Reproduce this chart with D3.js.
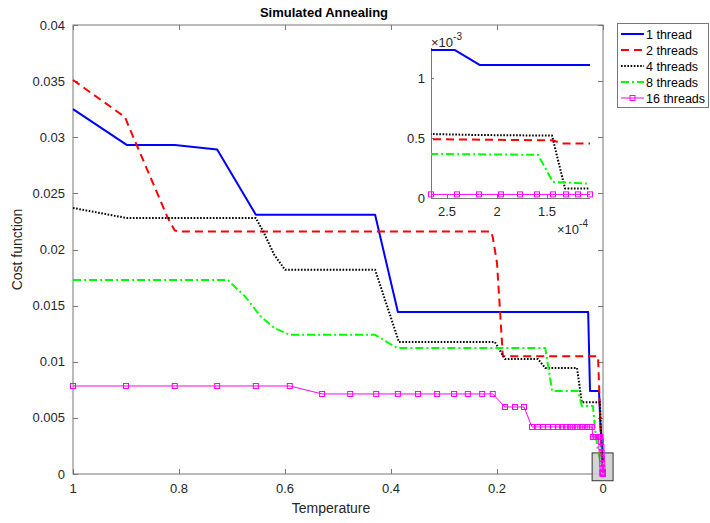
<!DOCTYPE html>
<html><head><meta charset="utf-8">
<script src="https://cdn.jsdelivr.net/npm/d3@7/dist/d3.min.js"></script>
<style>body{margin:0;background:#fff}svg{font-family:"Liberation Sans",Arial,sans-serif}</style>
</head><body><svg id="c" width="710" height="523"></svg>
<script>
// ---- data ----
const seriesNames = ["1 thread","2 threads","4 threads","8 threads","16 threads"];
const t1 = [1,0.898,0.808,0.728,0.655,0.43,0.387,0.028,0.0245,0.0075,0.005,0.003,0.0015,0.0005,2.66e-4,2.42e-4,2.17e-4,1.07e-4];
const c1 = [0.0325,0.0293,0.0293,0.0289,0.0231,0.0231,0.01443,0.01443,0.0074,0.0074,0.0045,0.0030,0.0018,0.0013,0.001233,0.001233,0.001108,0.001108];
const t2 = [1,0.902,0.896,0.821,0.808,0.80,0.211,0.208,0.2,0.194,0.189,0.0094,0.006,0.003,0.001,2.66e-4,1.44e-4,1.35e-4,1.07e-4];
const c2 = [0.0351,0.0318,0.0311,0.0228,0.0217,0.0216,0.0216,0.0211,0.0188,0.0143,0.0105,0.0105,0.0060,0.0020,0.0008,0.00049,0.00048,0.000455,0.000455];
const t4 = [1,0.898,0.655,0.64,0.62,0.60,0.43,0.385,0.204,0.185,0.123,0.109,0.049,0.04,0.0057,0.004,0.002,0.001,2.66e-4,2.2e-4,1.45e-4,1.32e-4,1.07e-4];
const c4 = [0.0237,0.0228,0.0228,0.0215,0.0195,0.0182,0.0182,0.01176,0.01176,0.01025,0.01025,0.00944,0.00944,0.0064,0.0064,0.0040,0.0015,0.0008,0.000533,0.000525,0.00052,0.00008,0.00008];
const t8 = [1,0.708,0.675,0.647,0.62,0.591,0.43,0.389,0.109,0.096,0.047,0.04,0.019,0.015,0.01,0.004,0.001,2.66e-4,1.59e-4,1.44e-4,1.07e-4];
const c8 = [0.01728,0.01728,0.0158,0.0141,0.0130,0.0124,0.0124,0.01123,0.01123,0.0074,0.0074,0.00606,0.00606,0.0040,0.0022,0.0010,0.0006,0.000367,0.00036,0.000133,0.00012];
const t16 = [1,0.9,0.808,0.728,0.655,0.591,
  0.530,0.477,0.428,0.387,0.349,0.313,0.281,0.255,0.228,0.208,
  0.185,0.166,0.149,
  0.134,0.123,0.113,0.104,0.094,0.085,0.077,0.070,0.062,0.057,0.049,0.043,0.038,0.030,0.025,0.021,
  0.019,0.016,0.013,0.010,0.008,0.006,0.005,
  0.004,0.003,0.0025,0.002,0.0015,0.001,0.0006,0.0004,
  2.66e-4,2.40e-4,2.18e-4,1.96e-4,1.77e-4,1.60e-4,1.44e-4,1.31e-4,1.19e-4,1.07e-4];
const c16 = [0.00784,0.00784,0.00784,0.00784,0.00784,0.00784,
  0.00713,0.00713,0.00713,0.00713,0.00713,0.00713,0.00713,0.00713,0.00713,0.00713,
  0.00597,0.00597,0.00597,
  0.00419,0.00419,0.00419,0.00419,0.00419,0.00419,0.00419,0.00419,0.00419,0.00419,0.00419,0.00419,0.00419,0.00419,0.00419,0.00419,
  0.0033,0.0033,0.0033,0.0033,0.0033,0.0033,0.0033,
  0.0029,0.0024,0.0019,0.0014,0.0009,0.0005,0.0002,0.0001,
  0.00003,0.00003,0.00003,0.00003,0.00003,0.00003,0.00003,0.00003,0.00003,0.00003];
const xTicks = [1,0.8,0.6,0.4,0.2,0];
const xTickLabels = ["1","0.8","0.6","0.4","0.2","0"];
const yTicks = [0,0.005,0.01,0.015,0.02,0.025,0.03,0.035,0.04];
const yTickLabels = ["0","0.005","0.01","0.015","0.02","0.025","0.03","0.035","0.04"];
const insetXTicks = [2.5e-4,2e-4,1.5e-4];
const insetXTickLabels = ["2.5","2","1.5"];
const insetYTicks = [0,0.5e-3,1e-3];
const insetYTickLabels = ["0","0.5","1"];
const zoomBoxT = [0.0205,-0.019];
const zoomBoxC = [-0.0006,0.00188];

// ---- styles ----
const styles = [
  {color:"#0000ff", dash:null, w:2},
  {color:"#ff0000", dash:"8,5", w:2},
  {color:"#000000", dash:"1.6,1.6", w:2},
  {color:"#00ff00", dash:"8,3,2,3", w:2},
  {color:"#ff00ff", dash:null, w:1, marker:true}
];
const series = [[t1,c1],[t2,c2],[t4,c4],[t8,c8],[t16,c16]].map((p,i)=>({
  name:seriesNames[i], pts:p[0].map((t,j)=>[t,p[1][j]]), st:styles[i]}));

const svg = d3.select("#c");
const L=73,R=603,T=25,B=474;
const x = d3.scaleLinear().domain([1,0]).range([L,R]);
const y = d3.scaleLinear().domain([0,0.04]).range([B,T]);
const axisCol="#777", txtCol="#262626";

// axes box + ticks
const g = svg.append("g");
g.append("rect").attr("x",L).attr("y",T).attr("width",R-L).attr("height",B-T)
 .attr("fill","#fff").attr("stroke",axisCol).attr("stroke-width",1);
const tl=5;
xTicks.forEach((v,i)=>{
  const px=Math.round(x(v))+0.5;
  g.append("line").attr("x1",px).attr("x2",px).attr("y1",B).attr("y2",B-tl).attr("stroke",axisCol);
  g.append("line").attr("x1",px).attr("x2",px).attr("y1",T).attr("y2",T+tl).attr("stroke",axisCol);
  g.append("text").attr("x",x(v)).attr("y",493).attr("text-anchor","middle")
   .attr("font-size",13).attr("fill",txtCol).text(xTickLabels[i]);
});
yTicks.forEach((v,i)=>{
  const py=Math.round(y(v))+0.5;
  g.append("line").attr("x1",L).attr("x2",L+tl).attr("y1",py).attr("y2",py).attr("stroke",axisCol);
  g.append("line").attr("x1",R).attr("x2",R-tl).attr("y1",py).attr("y2",py).attr("stroke",axisCol);
  g.append("text").attr("x",65).attr("y",y(v)+4.5).attr("text-anchor","end")
   .attr("font-size",13).attr("fill",txtCol).text(yTickLabels[i]);
});
svg.append("text").attr("x",324).attr("y",17).attr("text-anchor","middle")
 .attr("font-size",13).attr("font-weight","bold").attr("fill","#000").text("Simulated Annealing");
svg.append("text").attr("x",331).attr("y",513).attr("text-anchor","middle")
 .attr("font-size",14).attr("fill",txtCol).text("Temperature");
svg.append("text").attr("transform","translate(22,"+((T+B)/2)+") rotate(-90)").attr("text-anchor","middle")
 .attr("font-size",14).attr("fill",txtCol).text("Cost function");

// zoom indicator box
svg.append("rect").attr("x",x(zoomBoxT[0])).attr("y",y(zoomBoxC[1]))
 .attr("width",x(zoomBoxT[1])-x(zoomBoxT[0])).attr("height",y(zoomBoxC[0])-y(zoomBoxC[1]))
 .attr("fill","#cfcfcf").attr("fill-opacity",0.9).attr("stroke","#333").attr("stroke-width",1);

function drawSeries(parent, xs, ys, clipId){
  const line = d3.line().x(d=>xs(d[0])).y(d=>ys(d[1]));
  series.forEach(s=>{
    const p = parent.append("path").attr("d",line(s.pts)).attr("fill","none")
      .attr("stroke",s.st.color).attr("stroke-width",s.st.w).attr("stroke-linejoin","round");
    if(s.st.dash) p.attr("stroke-dasharray",s.st.dash);
    if(clipId) p.attr("clip-path","url(#"+clipId+")");
    if(s.st.marker){
      const pts = clipId ? s.pts.filter(d=>d[0]<=xs.domain()[0]*1.0001 && d[0]>=xs.domain()[1]*0.9999) : s.pts;
      parent.selectAll(null).data(pts).enter().append("rect")
        .attr("x",d=>xs(d[0])-2.5).attr("y",d=>ys(d[1])-2.5).attr("width",5).attr("height",5)
        .attr("fill","none").attr("stroke",s.st.color).attr("stroke-width",1);
    }
  });
}
drawSeries(svg.append("g"), x, y, null);

// ---- inset ----
const iL=431,iR=590,iT=48,iB=198;
const ix = d3.scaleLinear().domain([2.66e-4,1.07e-4]).range([iL,iR]);
const iy = d3.scaleLinear().domain([0,1.25e-3]).range([iB,iT]);
const ig = svg.append("g");
ig.append("rect").attr("x",iL).attr("y",iT).attr("width",iR-iL).attr("height",iB-iT).attr("fill","#fff");
svg.append("clipPath").attr("id","ic").append("rect").attr("x",iL).attr("y",iT-4).attr("width",iR-iL+2).attr("height",iB-iT+6);
ig.append("line").attr("x1",iL+0.5).attr("x2",iL+0.5).attr("y1",iT).attr("y2",iB).attr("stroke",axisCol);
ig.append("line").attr("x1",iL).attr("x2",iR).attr("y1",iB+0.5).attr("y2",iB+0.5).attr("stroke",axisCol);
insetXTicks.forEach((v,i)=>{
  const px=Math.round(ix(v))+0.5;
  ig.append("line").attr("x1",px).attr("x2",px).attr("y1",iB).attr("y2",iB-3).attr("stroke",axisCol);
  ig.append("text").attr("x",ix(v)).attr("y",216).attr("text-anchor","middle")
   .attr("font-size",13).attr("fill",txtCol).text(insetXTickLabels[i]);
});
insetYTicks.forEach((v,i)=>{
  const py=Math.round(iy(v))+0.5;
  ig.append("line").attr("x1",iL).attr("x2",iL+3).attr("y1",py).attr("y2",py).attr("stroke",axisCol);
  ig.append("text").attr("x",425).attr("y",iy(v)+4.5).attr("text-anchor","end")
   .attr("font-size",13).attr("fill",txtCol).text(insetYTickLabels[i]);
});
const e3 = ig.append("text").attr("x",431).attr("y",47).attr("font-size",13).attr("fill",txtCol);
e3.append("tspan").text("\u00d710");
e3.append("tspan").attr("dy",-7).attr("font-size",10).text("-3");
const e4 = ig.append("text").attr("x",557).attr("y",234).attr("font-size",13).attr("fill",txtCol);
e4.append("tspan").text("\u00d710");
e4.append("tspan").attr("dy",-7).attr("font-size",10).text("-4");
drawSeries(ig, ix, iy, "ic");

// ---- legend ----
const lg = svg.append("g");
lg.append("rect").attr("x",617.5).attr("y",23.5).attr("width",91).attr("height",84)
 .attr("fill","#fff").attr("stroke",axisCol).attr("stroke-width",1);
series.forEach((s,i)=>{
  const yy = 34+i*16;
  const l = lg.append("line").attr("x1",621).attr("x2",644).attr("y1",yy).attr("y2",yy)
    .attr("stroke",s.st.color).attr("stroke-width",s.st.w);
  if(s.st.dash) l.attr("stroke-dasharray",s.st.dash);
  if(s.st.marker) lg.append("rect").attr("x",630).attr("y",yy-2.5).attr("width",5).attr("height",5)
    .attr("fill","none").attr("stroke",s.st.color);
  lg.append("text").attr("x",646).attr("y",yy+4.5).attr("font-size",12.5).attr("fill","#000").text(s.name);
});
</script></body></html>
